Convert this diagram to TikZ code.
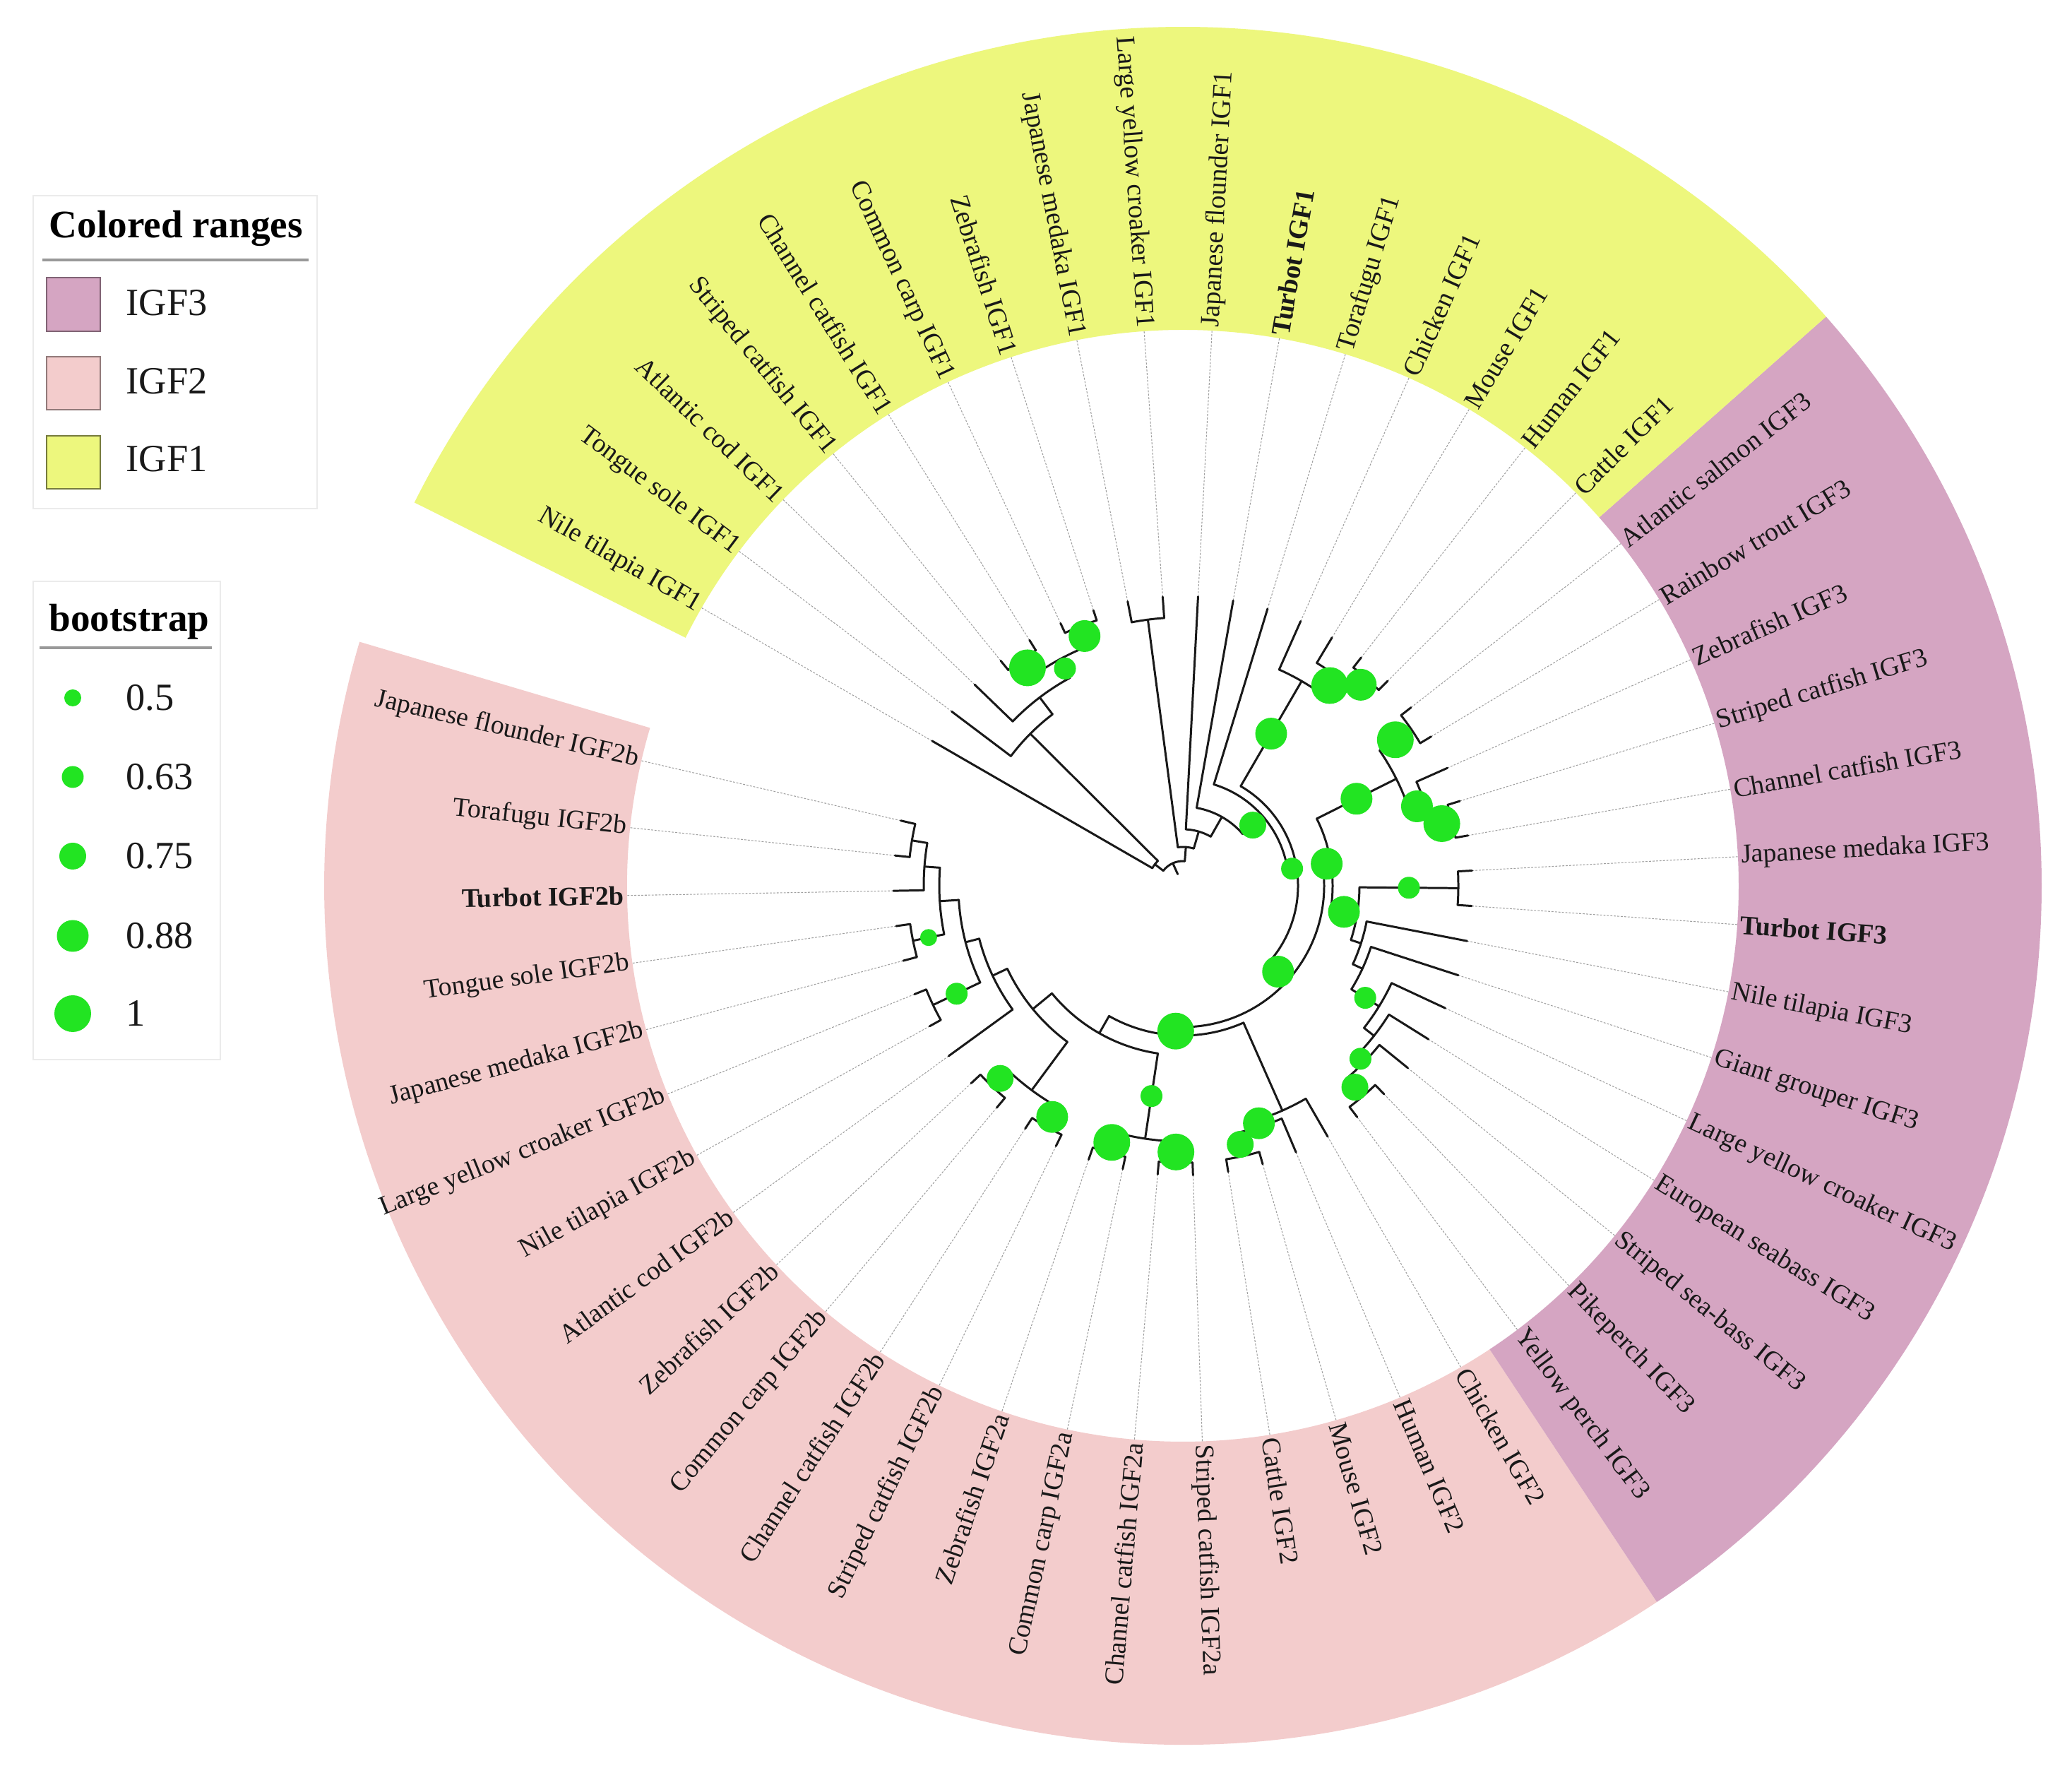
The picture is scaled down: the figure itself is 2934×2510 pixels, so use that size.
\documentclass[tikz,border=0pt]{standalone}
\usepackage{fontspec}
\setmainfont{Liberation Serif}
\definecolor{yel}{RGB}{237,247,125}
\definecolor{pnk}{RGB}{243,204,204}
\definecolor{pur}{RGB}{213,165,194}
\definecolor{grn}{RGB}{34,228,34}
\definecolor{txt}{RGB}{25,25,25}
\tikzset{
 br/.style={line width=0.85pt, black!90, line cap=round, line join=round},
 dotl/.style={line width=0.3pt, gray!75, dash pattern=on 0.8pt off 0.6pt},
 lab/.style={font=\fontsize{10.8}{13}\selectfont, inner sep=0pt, text=txt},
 legtxt/.style={font=\fontsize{15.5}{18}\selectfont, inner sep=0pt, text=txt, anchor=base west},
 legtitle/.style={font=\bfseries\fontsize{15.7}{18}\selectfont, inner sep=0pt, text=black, anchor=base west},
 legbox/.style={draw=black!8, line width=0.5pt, fill=white},
}
\newcommand{\TRad}[3]{\draw[br] (#1:#2) -- (#1:#3);}
\newcommand{\TArc}[3]{\draw[br] (#2:#1) arc[start angle=#2, end angle=#3, radius=#1];}
\newcommand{\bsd}[3]{\fill[grn] (#1,#2) circle[radius=#3];}
\newcommand{\bsp}[3]{\fill[grn] (#1:#2) circle[radius=#3];}
\begin{document}
\begin{tikzpicture}[x=0.1mm,y=0.1mm]
\useasboundingbox (0,0) rectangle (2934,2510);
\fill[white] (0,0) rectangle (2934,2510);
\begin{scope}[shift={(1675,1256)}]
% colored ranges
\fill[pnk] (163.5:787) arc[start angle=163.5,end angle=303.5,radius=787] -- (303.5:1216) arc[start angle=303.5,end angle=163.5,radius=1216] -- cycle;
\fill[pur] (303.5:787) arc[start angle=303.5,end angle=401.5,radius=787] -- (401.5:1216) arc[start angle=401.5,end angle=303.5,radius=1216] -- cycle;
\fill[yel] (41.5:787) arc[start angle=41.5,end angle=153.5,radius=787] -- (153.5:1216) arc[start angle=153.5,end angle=41.5,radius=1216] -- cycle;
% labels and dotted leaders
\foreach \k/\t in {0/Japanese flounder IGF2b, 1/Torafugu IGF2b, 2/{\textbf{Turbot IGF2b}}, 3/Tongue sole IGF2b, 4/Japanese medaka IGF2b, 5/Large yellow croaker IGF2b, 6/Nile tilapia IGF2b, 7/Atlantic cod IGF2b, 8/Zebrafish IGF2b, 9/Common carp IGF2b, 10/Channel catfish IGF2b, 11/Striped catfish IGF2b, 12/Zebrafish IGF2a, 13/Common carp IGF2a, 14/Channel catfish IGF2a, 15/Striped catfish IGF2a, 16/Cattle IGF2, 17/Mouse IGF2, 18/Human IGF2, 19/Chicken IGF2, 20/Yellow perch IGF3, 21/Pikeperch IGF3, 22/Striped sea-bass IGF3, 23/European seabass IGF3, 24/Large yellow croaker IGF3, 25/Giant grouper IGF3, 26/Nile tilapia IGF3, 27/{\textbf{Turbot IGF3}}, 28/Japanese medaka IGF3, 29/Channel catfish IGF3, 30/Striped catfish IGF3, 31/Zebrafish IGF3, 32/Rainbow trout IGF3, 33/Atlantic salmon IGF3, 34/Cattle IGF1, 35/Human IGF1, 36/Mouse IGF1, 37/Chicken IGF1, 38/Torafugu IGF1, 39/{\textbf{Turbot IGF1}}, 40/Japanese flounder IGF1, 41/Large yellow croaker IGF1, 42/Japanese medaka IGF1, 43/Zebrafish IGF1, 44/Common carp IGF1, 45/Channel catfish IGF1, 46/Striped catfish IGF1, 47/Atlantic cod IGF1, 48/Tongue sole IGF1, 49/Nile tilapia IGF1}{
  \pgfmathsetmacro\ang{167+7*\k}
  \draw[dotl] (\ang:410) -- (\ang:787);
  \ifnum\k<15
    \node[lab,rotate=\ang-180,anchor=east] at (\ang:791) {\t};
  \else\ifnum\k>40
    \node[lab,rotate=\ang-180,anchor=east] at (\ang:791) {\t};
  \else
    \node[lab,rotate=\ang,anchor=west] at (\ang:791) {\t};
  \fi\fi
}
% ---------- tree ----------
% root region
\TRad{114.09}{18}{35}
\TArc{35}{85.62}{142.56}\TRad{85.62}{35}{55}\TRad{142.56}{35}{50}
% IGF1 fish clade
\TArc{50}{135.125}{150}\TRad{135.125}{50}{305}\TRad{150}{50}{410}
\TArc{305}{127.25}{143}\TRad{127.25}{305}{335}\TRad{143}{305}{410}
\TArc{335}{118.5}{136}\TRad{118.5}{335}{365}\TRad{136}{335}{410}
\TArc{365}{111.5}{125.5}\TRad{111.5}{365}{395}\TRad{125.5}{365}{393}
\TArc{395}{108}{115}\TRad{108}{395}{410}\TRad{115}{395}{410}
\TArc{393}{122}{129}\TRad{122}{393}{410}\TRad{129}{393}{410}
% IGF1 top ladder
\TArc{55}{73.74}{97.5}\TRad{73.74}{55}{80}\TRad{97.5}{55}{380}
\TArc{380}{94}{101}\TRad{94}{380}{410}\TRad{101}{380}{410}
\TArc{80}{60.48}{87}\TRad{60.48}{80}{112}\TRad{87}{80}{410}
\TArc{112}{40.95}{80}\TRad{40.95}{112}{150}\TRad{80}{112}{410}
\TArc{150}{8.91}{73}\TRad{8.91}{150}{163}\TRad{73}{150}{410}
\TArc{163}{-42.06}{59.875}\TRad{-42.06}{163}{200}\TRad{59.875}{163}{335}
% IGF1 tetrapods
\TArc{335}{53.75}{66}\TRad{53.75}{335}{368}\TRad{66}{335}{410}
\TArc{368}{48.5}{59}\TRad{48.5}{368}{392}\TRad{59}{368}{410}
\TArc{392}{45}{52}\TRad{45}{392}{410}\TRad{52}{392}{410}
% IGF2 + IGF3
\TArc{200}{-92.84}{8.715}\TRad{-92.84}{200}{212}\TRad{8.715}{200}{212}
% IGF3
\TArc{212}{-9.195}{26.625}\TRad{-9.195}{212}{250}\TRad{26.625}{212}{338}
\TArc{338}{18.75}{34.5}\TRad{18.75}{338}{362}\TRad{34.5}{338}{392}
\TArc{362}{13.5}{24}\TRad{13.5}{362}{392}\TRad{24}{362}{410}
\TArc{392}{10}{17}\TRad{10}{392}{410}\TRad{17}{392}{410}
\TArc{392}{31}{38}\TRad{31}{392}{410}\TRad{38}{392}{410}
\TArc{250}{-17.89}{-0.5}\TRad{-17.89}{250}{265}\TRad{-0.5}{250}{390}
\TArc{390}{-4}{3}\TRad{-4}{390}{410}\TRad{3}{390}{410}
\TArc{265}{-24.78}{-11}\TRad{-24.78}{265}{280}\TRad{-11}{265}{410}
\TArc{280}{-31.5625}{-18}\TRad{-31.5625}{280}{326}\TRad{-18}{280}{410}
\TArc{326}{-38.125}{-25}\TRad{-38.125}{326}{344}\TRad{-25}{326}{410}
\TArc{344}{-44.25}{-32}\TRad{-44.25}{344}{358}\TRad{-32}{344}{410}
\TArc{358}{-49.5}{-39}\TRad{-49.5}{358}{392}\TRad{-39}{358}{410}
\TArc{392}{-53}{-46}\TRad{-53}{392}{410}\TRad{-46}{392}{410}
% IGF2
\TArc{212}{240.445}{293.875}\TRad{240.445}{212}{240}\TRad{293.875}{212}{348}
\TArc{348}{287.75}{300}\TRad{287.75}{348}{358}\TRad{300}{348}{410}
\TArc{358}{282.5}{293}\TRad{282.5}{358}{392}\TRad{293}{358}{410}
\TArc{392}{279}{286}\TRad{279}{392}{410}\TRad{286}{392}{410}
\TArc{240}{219.39}{261.5}\TRad{219.39}{240}{275}\TRad{261.5}{240}{362}
\TArc{362}{254.5}{268.5}\TRad{254.5}{362}{392}\TRad{268.5}{362}{392}
\TArc{392}{251}{258}\TRad{251}{392}{410}\TRad{258}{392}{410}
\TArc{392}{265}{272}\TRad{265}{392}{410}\TRad{272}{392}{410}
% IGF2b
\TArc{275}{205.28}{233.5}\TRad{205.28}{275}{298}\TRad{233.5}{275}{360}
\TArc{360}{226.5}{240.5}\TRad{226.5}{360}{392}\TRad{240.5}{360}{392}
\TArc{392}{223}{230}\TRad{223}{392}{410}\TRad{230}{392}{410}
\TArc{392}{237}{244}\TRad{237}{392}{410}\TRad{244}{392}{410}
\TArc{298}{194.56}{216}\TRad{194.56}{298}{318}\TRad{216}{298}{410}
\TArc{318}{183.625}{205.5}\TRad{183.625}{318}{345}\TRad{205.5}{318}{392}
\TArc{392}{202}{209}\TRad{202}{392}{410}\TRad{209}{392}{410}
\TArc{345}{175.75}{191.5}\TRad{175.75}{345}{367}\TRad{191.5}{345}{390}
\TArc{390}{188}{195}\TRad{188}{390}{410}\TRad{195}{390}{410}
\TArc{367}{170.5}{181}\TRad{170.5}{367}{389}\TRad{181}{367}{410}
\TArc{389}{167}{174}\TRad{167}{389}{410}\TRad{174}{389}{410}
% bootstrap symbols (mid-branch)
\bsp{125.5}{379}{26}\bsp{118.5}{350}{15.5}\bsp{111.5}{380}{22.5}
\bsp{53.75}{351.5}{26}\bsp{48.5}{380}{22.5}\bsp{59.875}{249}{22.5}
\bsp{40.95}{131}{19}\bsp{8.91}{156.5}{15.5}
\bsp{34.5}{365}{26}\bsp{26.625}{275}{22.5}\bsp{18.75}{350}{22.5}\bsp{13.5}{377}{26}
\bsp{8.715}{206}{22.5}\bsp{-0.5}{320}{15.5}\bsp{-9.195}{231}{22.5}
\bsp{-42.06}{181.5}{22.5}\bsp{-31.5625}{303}{15.5}\bsp{-44.25}{351}{15.5}\bsp{-49.5}{375}{19}
\bsp{267.16}{206}{26}\bsp{261.5}{301}{15.5}\bsp{254.5}{377}{26}\bsp{268.5}{377}{26}
\bsp{282.5}{375}{19}\bsp{287.75}{353}{22.5}
\bsp{240.5}{376}{22.5}\bsp{226.5}{376}{19}\bsp{205.5}{355}{15.5}\bsp{191.5}{367.5}{12}
\end{scope}
% ---------- legends ----------
\draw[legbox] (47,1790) rectangle (449,2233);
\node[legtitle] at (69,2173) {Colored ranges};
\draw[black!40, line width=0.9pt] (60,2142) -- (437,2142);
\draw[fill=pur, draw=pur!60!black, line width=0.5pt] (66,2041) rectangle (142,2117);
\node[legtxt] at (178,2063) {IGF3};
\draw[fill=pnk, draw=pnk!60!black, line width=0.5pt] (66,1930) rectangle (142,2005);
\node[legtxt] at (178,1952) {IGF2};
\draw[fill=yel, draw=yel!50!black, line width=0.5pt] (66,1818) rectangle (142,1893);
\node[legtxt] at (178,1842) {IGF1};
\draw[legbox] (47,1010) rectangle (312,1687);
\node[legtitle] at (69,1616) {bootstrap};
\draw[black!40, line width=0.9pt] (56,1593) -- (300,1593);
\bsd{103}{1522}{12}\node[legtxt] at (178,1504) {0.5};
\bsd{103}{1410}{15.5}\node[legtxt] at (178,1392) {0.63};
\bsd{103}{1298}{19}\node[legtxt] at (178,1280) {0.75};
\bsd{103}{1185}{22.5}\node[legtxt] at (178,1167) {0.88};
\bsd{103}{1075}{26}\node[legtxt] at (178,1057) {1};
\end{tikzpicture}
\end{document}
